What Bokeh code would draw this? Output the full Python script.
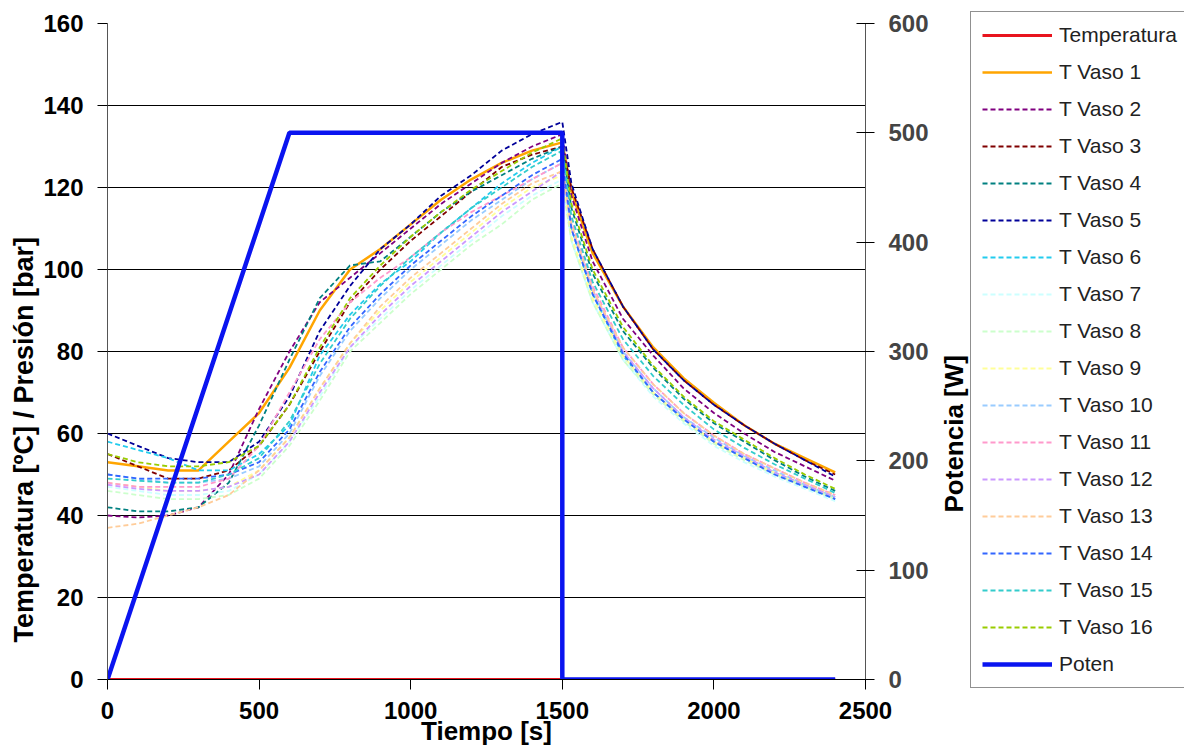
from bokeh.plotting import figure
from bokeh.layouts import row
from bokeh.models import Range1d, LinearAxis, Legend, LegendItem, FixedTicker, Title
from bokeh.embed import file_html
from bokeh.resources import INLINE

# ---------------- data ----------------
tiempo = [0, 100, 200, 300, 400, 500, 600, 700, 800, 900, 1000, 1100, 1200, 1300,
          1400, 1500, 1530, 1600, 1700, 1800, 1900, 2000, 2100, 2200, 2300, 2400]

temperatura = [0] * len(tiempo)

vaso1 = [53, 52, 51, 51, 58, 65, 76, 90, 100, 105, 111, 117, 122, 126, 129, 131, 119, 104, 91, 81, 73.5, 67.5, 62, 57.5, 54, 50.5]
vaso2 = [40, 39.5, 40, 42, 50, 66, 80, 92, 98, 104, 110, 116, 121, 126, 130, 133, 118, 102, 88, 79, 71, 65, 60, 55.5, 52, 48.5]
vaso3 = [55, 52, 49, 49, 51, 57, 67, 80, 92, 100, 107, 113, 119, 125, 128, 130, 120, 105, 91, 80.5, 73, 67, 62, 57.5, 53.5, 50]
vaso4 = [42, 41, 41, 42, 48, 62, 78, 93, 101, 102, 108, 114, 119, 123, 127, 130, 115, 99, 85, 76, 68.5, 62.5, 58, 53.5, 49.5, 46]
vaso5 = [60, 57, 54, 53, 53, 58, 69, 85, 96, 105, 111, 118, 123, 129, 133, 136, 121, 105, 91, 80.5, 73, 67, 62, 57.5, 53.5, 49.5]
vaso6 = [58, 56, 54, 51, 51, 55, 62, 79, 89, 96.5, 102, 109, 115, 121, 126, 130, 110, 94, 79, 70, 63.5, 58, 54, 50.5, 47, 44]
vaso7 = [47, 46, 45, 45, 46, 50, 58, 69, 81, 88, 95, 101, 107, 113, 118, 122, 107, 92, 78, 69, 62.5, 57, 53, 49.5, 46.5, 43.5]
vaso8 = [46, 45, 44, 44, 45, 49, 57, 68, 80, 87, 94, 100, 106, 111, 117, 121, 107, 92, 78, 69.5, 63, 57.5, 53.5, 50, 47, 44]
vaso9 = [48, 47, 46, 46, 47, 51, 59, 71, 82, 90, 97, 103, 109, 115, 120, 123, 108, 93, 79, 70, 63.5, 58, 54, 50.5, 47.5, 44.5]
vaso10 = [50, 49, 48, 48, 49, 52, 60, 74, 85, 93, 100, 106, 112, 117, 122, 126, 111, 95, 80, 71, 64, 59, 54.5, 51, 47.5, 44.5]
vaso11 = [48, 47, 47, 47, 49, 57, 70, 83, 92, 98, 103, 109, 114, 118, 122, 126, 112, 96, 81, 72, 65, 59.5, 55, 51.5, 48, 45]
vaso12 = [47.5, 46.5, 46, 46, 47, 50, 58, 70, 81, 89, 96, 102, 108, 114, 119, 124, 110, 95, 80, 71, 64, 58.5, 54.5, 50.5, 47.5, 44.5]
vaso13 = [37, 38, 40, 42, 45, 51, 59, 71, 82, 91, 98, 104, 110, 116, 121, 124, 111, 95, 81, 72, 65, 59.5, 55, 51.5, 48, 45]
vaso14 = [50, 49, 49, 49, 50, 53, 61, 75, 86, 94, 101, 107, 113, 118, 123, 127, 110, 94, 79.5, 70, 63.5, 58, 54, 50, 47, 44]
vaso15 = [49, 48.5, 48, 48, 50, 54, 63, 77, 88, 96, 103, 109, 115, 120, 125, 129, 113, 97, 83, 74, 67, 61, 56.5, 52.5, 49, 45.5]
vaso16 = [55, 53, 52, 52, 53, 57, 67, 81, 93, 101, 108, 114, 119.5, 124, 128.5, 132, 116, 100, 86, 76.5, 69, 63, 58.5, 54, 50, 46.5]

pot_tiempo = [0, 600, 1500, 1500, 2400]
potencia = [0, 500, 500, 0, 0]

vasos = [vaso1, vaso2, vaso3, vaso4, vaso5, vaso6, vaso7, vaso8,
         vaso9, vaso10, vaso11, vaso12, vaso13, vaso14, vaso15, vaso16]
vaso_labels = ["T Vaso %d" % (i + 1) for i in range(16)]
vaso_colors = ["#FFA500", "#800080", "#800000", "#008080", "#000099", "#22CCEE",
               "#CCFFFF", "#CCFFCC", "#FFFF99", "#99CCFF", "#FF99CC", "#CC99FF",
               "#FFCC99", "#3366FF", "#33CCCC", "#99CC00"]

left_ticks = [0, 20, 40, 60, 80, 100, 120, 140, 160]
right_ticks = [0, 100, 200, 300, 400, 500, 600]
x_ticks = [0, 500, 1000, 1500, 2000, 2500]

FONT = "Liberation Sans"


def draw_series(fig, y_name=None):
    rs = [fig.line(tiempo, temperatura, line_color="#E8141E", line_width=3)]
    for i, (vals, col) in enumerate(zip(vasos, vaso_colors)):
        if i == 0:
            rs.append(fig.line(tiempo, vals, line_color=col, line_width=2.5))
        else:
            rs.append(fig.line(tiempo, vals, line_color=col, line_width=1.8, line_dash="5 3"))
    kw = {"y_range_name": y_name} if y_name else {}
    rs.append(fig.line(pot_tiempo, potencia, line_color="#0A14F0", line_width=4.5, **kw))
    return rs


# ---------------- main figure ----------------
p = figure(frame_width=758, frame_height=656, x_range=Range1d(0, 2500), y_range=Range1d(0, 160),
           output_backend="svg", toolbar_location=None,
           min_border_left=107, min_border_top=23, min_border_bottom=60, min_border_right=69)
p.extra_y_ranges = {"pot": Range1d(0, 600)}
p.outline_line_color = None
p.background_fill_color = "white"

p.xgrid.visible = False
p.ygrid.grid_line_color = "black"
p.ygrid.grid_line_width = 1
p.ygrid.ticker = FixedTicker(ticks=left_ticks)

p.xaxis.ticker = FixedTicker(ticks=x_ticks)
p.yaxis.ticker = FixedTicker(ticks=left_ticks)
p.xaxis.axis_label = "Tiempo [s]"

for ax in (p.xaxis[0], p.yaxis[0]):
    ax.major_label_text_font = FONT
    ax.major_label_text_font_style = "bold"
    ax.major_label_text_font_size = "24px"
    ax.major_label_text_color = "black"
    ax.axis_label_text_font = FONT
    ax.axis_label_text_font_style = "bold"
    ax.axis_label_text_color = "black"
    ax.minor_tick_line_color = None
    ax.major_tick_in = 0
    ax.major_tick_out = 10
    ax.major_tick_line_color = "black"
    ax.axis_line_color = "#555555"

p.yaxis.major_label_standoff = 14
p.xaxis.axis_label_text_font_size = "26px"
p.xaxis.axis_line_color = "black"
p.xaxis.major_label_standoff = 12
p.xaxis.axis_label_standoff = -6

left_title = Title(text="Temperatura [ºC] / Presión [bar]", align="left", offset=37,
                   text_font=FONT, text_font_style="bold", text_font_size="27px",
                   text_color="black", standoff=4)
p.add_layout(left_title, "left")

right = LinearAxis(y_range_name="pot", ticker=FixedTicker(ticks=right_ticks))
right.major_label_text_font = FONT
right.major_label_text_font_style = "bold"
right.major_label_text_font_size = "24px"
right.minor_tick_line_color = None
right.major_tick_in = 9
right.major_tick_out = 9
right.axis_line_color = "#555555"
right.major_label_standoff = 14
p.add_layout(right, "right")

draw_series(p, "pot")

# ---------------- legend panel (with the right axis title) ----------------
lf = figure(frame_width=214, frame_height=684, x_range=Range1d(-2, -1), y_range=Range1d(-2, -1),
            x_axis_type=None, y_axis_type=None, title=None,
            output_backend="svg", toolbar_location=None,
            min_border_left=35, min_border_top=21, min_border_bottom=0, min_border_right=0)
lf.outline_line_color = None
lf.xgrid.visible = False
lf.ygrid.visible = False

pot_title = Title(text="Potencia [W]", align="left", offset=195,
                  text_font=FONT, text_font_style="bold", text_font_size="26px",
                  text_color="black", standoff=4)
lf.add_layout(pot_title, "left")

rs = draw_series(lf)
labels = ["Temperatura"] + vaso_labels + ["Poten"]
items = [LegendItem(label=lab, renderers=[r]) for lab, r in zip(labels, rs)]

legend = Legend(items=items, location=(0, 3))
legend.border_line_color = "#222222"
legend.border_line_width = 1.5
legend.label_text_font = FONT
legend.label_text_font_size = "21px"
legend.label_text_color = "#222222"
legend.glyph_width = 70
legend.glyph_height = 20
legend.label_height = 20
legend.spacing = 13
legend.padding = 11
legend.margin = 0
legend.label_standoff = 7
lf.add_layout(legend, "center")

layout = row(p, lf)
open("out.html", "w").write(file_html(layout, INLINE))
